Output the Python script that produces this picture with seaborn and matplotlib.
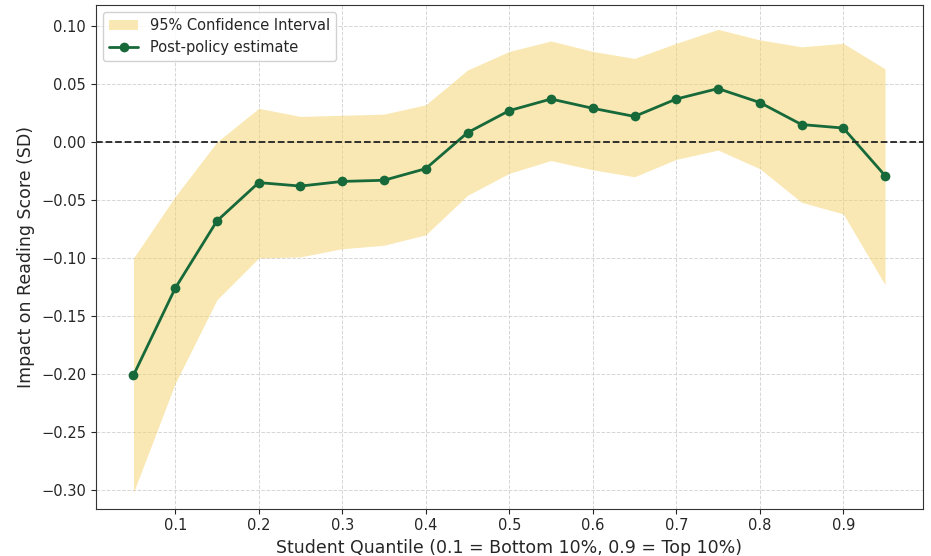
import seaborn as sns
import matplotlib.pyplot as plt
import pandas as pd

quantiles = [0.05, 0.10, 0.15, 0.20, 0.25, 0.30, 0.35, 0.40, 0.45, 0.50,
             0.55, 0.60, 0.65, 0.70, 0.75, 0.80, 0.85, 0.90, 0.95]
estimate = [-0.201, -0.126, -0.068, -0.035, -0.038, -0.034, -0.033, -0.023, 0.008, 0.027,
            0.037, 0.029, 0.022, 0.037, 0.046, 0.034, 0.015, 0.012, -0.029]
ci_upper = [-0.100, -0.047, 0.000, 0.029, 0.022, 0.023, 0.024, 0.032, 0.062, 0.078,
            0.087, 0.078, 0.072, 0.085, 0.097, 0.088, 0.082, 0.085, 0.063]
ci_lower = [-0.302, -0.208, -0.136, -0.100, -0.099, -0.092, -0.089, -0.080, -0.046, -0.027,
            -0.016, -0.024, -0.030, -0.015, -0.007, -0.023, -0.052, -0.062, -0.123]

df = pd.DataFrame({"quantile": quantiles, "estimate": estimate})

sns.set_style("ticks")
fig = plt.figure(figsize=(9.31, 5.56), dpi=100)
ax = fig.add_axes([0.103, 0.085, 0.888, 0.906])

# confidence band
ax.fill_between(quantiles, ci_lower, ci_upper, color="#F5D36A", alpha=0.5,
                linewidth=0, label="95% Confidence Interval")
sns.lineplot(data=df, x="quantile", y="estimate", ax=ax, color="#17693A",
             marker="o", markersize=7, linewidth=2, markeredgewidth=0,
             label="Post-policy estimate")
ax.axhline(0, color="#222222", linestyle="--", linewidth=1.3)

ax.set_xlim(0.005, 0.995)
ax.set_ylim(-0.316, 0.118)
ax.set_xticks([0.1, 0.2, 0.3, 0.4, 0.5, 0.6, 0.7, 0.8, 0.9])
ax.set_yticks([-0.30, -0.25, -0.20, -0.15, -0.10, -0.05, 0.00, 0.05, 0.10])
ax.grid(True, linestyle="--", color="#cccccc", linewidth=0.7, alpha=0.8)
ax.tick_params(labelsize=10.5)
ax.set_xlabel("Student Quantile (0.1 = Bottom 10%, 0.9 = Top 10%)", fontsize=12.5)
ax.set_ylabel("Impact on Reading Score (SD)", fontsize=12.5)
for s in ax.spines.values():
    s.set_color("#333333")

ax.legend(loc="upper left", fontsize=10.5, framealpha=0.9)

plt.savefig("out.png", dpi=100)
